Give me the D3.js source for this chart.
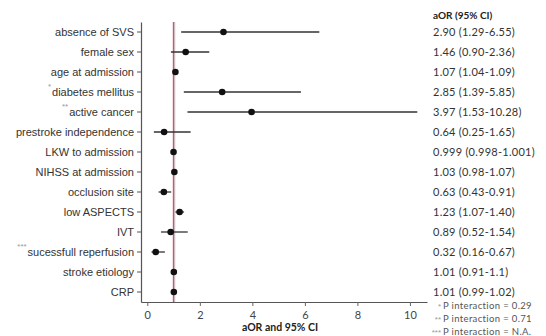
<!DOCTYPE html>
<html>
<head>
<meta charset="utf-8">
<script src="https://cdn.jsdelivr.net/npm/d3@7"></script>
<style>
  body { margin: 0; background: #fff; }
  svg text { font-family: "Liberation Sans", Arial, sans-serif; }
  .num { font-family: Lato, "Open Sans", sans-serif; }
</style>
</head>
<body>
<div id="chart"></div>
<script>
// data
const labels = ["absence of SVS", "female sex", "age at admission", "diabetes mellitus", "active cancer",
  "prestroke independence", "LKW to admission", "NIHSS at admission", "occlusion site", "low ASPECTS",
  "IVT", "sucessfull reperfusion", "stroke etiology", "CRP"];
const stars = ["", "", "", "*", "**", "", "", "", "", "", "", "***", "", ""];
const aor = [2.90, 1.46, 1.07, 2.85, 3.97, 0.64, 0.999, 1.03, 0.63, 1.23, 0.89, 0.32, 1.01, 1.01];
const ciLow = [1.29, 0.90, 1.04, 1.39, 1.53, 0.25, 0.998, 0.98, 0.43, 1.07, 0.52, 0.16, 0.91, 0.99];
const ciHigh = [6.55, 2.36, 1.09, 5.85, 10.28, 1.65, 1.001, 1.07, 0.91, 1.40, 1.54, 0.67, 1.1, 1.02];
const ciText = ["2.90 (1.29-6.55)", "1.46 (0.90-2.36)", "1.07 (1.04-1.09)", "2.85 (1.39-5.85)",
  "3.97 (1.53-10.28)", "0.64 (0.25-1.65)", "0.999 (0.998-1.001)", "1.03 (0.98-1.07)",
  "0.63 (0.43-0.91)", "1.23 (1.07-1.40)", "0.89 (0.52-1.54)", "0.32 (0.16-0.67)",
  "1.01 (0.91-1.1)", "1.01 (0.99-1.02)"];
const xTicks = [0, 2, 4, 6, 8, 10];
const footMarks = ["*", "**", "***"];
const footText = ["P interaction = 0.29", "P interaction = 0.71", "P interaction = N.A."];

const rows = labels.map((l, i) => ({label: l, star: stars[i], or: aor[i], lo: ciLow[i], hi: ciHigh[i], txt: ciText[i]}));

const W = 546, H = 336;
const svg = d3.select("#chart").append("svg")
  .attr("width", W)
  .attr("height", H);

// plot area
const pLeft = 141, pRight = 427, pTop = 22, pBottom = 302;

const x = d3.scaleLinear()
  .domain([-0.24, 10.65])
  .range([pLeft, pRight]);

const y = d3.scaleBand()
  .domain(labels)
  .range([pTop, pBottom]);

const yc = d => y(d) + y.bandwidth() / 2;

// x-axis
const gx = svg.append("g")
  .attr("transform", "translate(0," + pBottom + ")")
  .call(d3.axisBottom(x).tickValues(xTicks).tickSize(4).tickSizeOuter(0));
gx.select(".domain").attr("stroke", "#555").attr("stroke-width", 1.2);
gx.selectAll(".tick line").attr("stroke", "#666");
gx.selectAll(".tick text")
  .attr("class", "num")
  .attr("fill", "#444")
  .attr("font-size", 11)
  .attr("dy", "0.95em");

svg.append("text")
  .attr("class", "num")
  .attr("x", 280)
  .attr("y", 331)
  .attr("text-anchor", "middle")
  .attr("font-size", 10.5)
  .attr("font-weight", "bold")
  .attr("fill", "#222")
  .text("aOR and 95% CI");

// y-axis
const gy = svg.append("g")
  .attr("transform", "translate(" + pLeft + ",0)")
  .call(d3.axisLeft(y).tickSize(4).tickSizeOuter(0));
gy.select(".domain").attr("stroke", "#555").attr("stroke-width", 1.2);
gy.selectAll(".tick line").attr("stroke", "#555");
gy.selectAll(".tick text")
  .attr("fill", "#333")
  .attr("font-size", 11);

// significance stars in front of labels
gy.selectAll(".tick").each(function(d, i) {
  if (!stars[i]) return;
  const t = d3.select(this).select("text");
  const w = t.node().getComputedTextLength();
  d3.select(this).append("text")
    .attr("x", -7 - w - 1)
    .attr("y", -3)
    .attr("text-anchor", "end")
    .attr("font-size", 8)
    .attr("fill", "#999")
    .text(stars[i]);
});

// reference line at 1
svg.append("line")
  .attr("x1", x(1) + 1.2).attr("x2", x(1) + 1.2)
  .attr("y1", pTop).attr("y2", pBottom)
  .attr("stroke", "#c8ecf0")
  .attr("stroke-width", 1.5);
svg.append("line")
  .attr("x1", x(1)).attr("x2", x(1))
  .attr("y1", pTop).attr("y2", pBottom)
  .attr("stroke", "#dc5062")
  .attr("stroke-width", 1.5);

// confidence intervals
svg.append("g").selectAll("line")
  .data(rows)
  .enter().append("line")
  .attr("x1", d => x(d.lo))
  .attr("x2", d => x(d.hi))
  .attr("y1", d => yc(d.label))
  .attr("y2", d => yc(d.label))
  .attr("stroke", "#333")
  .attr("stroke-width", 1.3);

// point estimates
svg.append("g").selectAll("circle")
  .data(rows)
  .enter().append("circle")
  .attr("cx", d => x(d.or))
  .attr("cy", d => yc(d.label))
  .attr("r", 3.3)
  .attr("fill", "#111");

// right column with aOR (95% CI)
svg.append("text")
  .attr("class", "num")
  .attr("x", 433)
  .attr("y", 19)
  .attr("font-size", 10)
  .attr("font-weight", "bold")
  .attr("fill", "#222")
  .text("aOR (95% CI)");

svg.append("g").selectAll("text")
  .data(rows)
  .enter().append("text")
  .attr("class", "num")
  .attr("x", 433)
  .attr("y", d => yc(d.label))
  .attr("dy", "0.35em")
  .attr("font-size", 11)
  .attr("letter-spacing", 0.25)
  .attr("fill", "#333")
  .text(d => d.txt);

// footnotes (the last line is partly cut by the bottom edge in the original)
const foot = svg.append("g");
footText.forEach((t, i) => {
  foot.append("text")
    .attr("x", 441)
    .attr("y", 309 + i * 13)
    .attr("text-anchor", "end")
    .attr("font-size", 8)
    .attr("fill", "#999")
    .text(footMarks[i]);
  foot.append("text")
    .attr("class", "num")
    .attr("x", 443)
    .attr("y", 309 + i * 13)
    .attr("font-size", 9.5)
    .attr("letter-spacing", 0.35)
    .attr("fill", "#555")
    .text(t);
});
</script>
</body>
</html>
